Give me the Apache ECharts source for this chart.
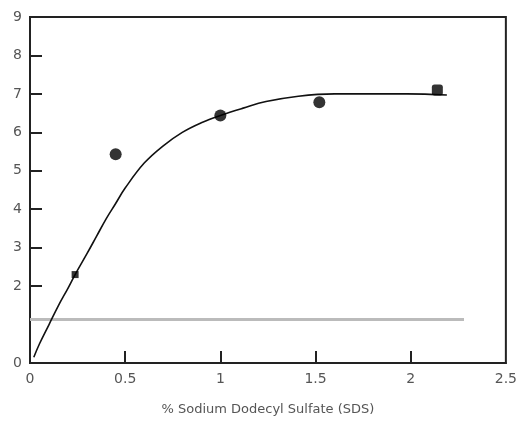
<!DOCTYPE html>
<html><head><meta charset="utf-8">
<script src="https://cdn.jsdelivr.net/npm/echarts@6/dist/echarts.min.js"></script>
<style>html,body{margin:0;padding:0;background:#fff}#c{width:520px;height:421px}</style>
</head><body><div id="c"></div>
<script>
// measured points
var pointX = [0.45, 1.0, 1.52];
var pointY = [5.43, 6.44, 6.78];
var smallPointX = [0.237];
var smallPointY = [2.3];
var squareX = [2.14];
var squareY = [7.1];
// fitted curve
var curveX = [0.02, 0.05, 0.1, 0.15, 0.2, 0.237, 0.3, 0.35, 0.4, 0.45, 0.5, 0.6, 0.7, 0.8, 0.9, 1.0, 1.12, 1.24, 1.41, 1.6, 1.8, 1.98, 2.19];
var curveY = [0.15, 0.5, 1.0, 1.5, 1.95, 2.3, 2.85, 3.3, 3.75, 4.15, 4.55, 5.2, 5.65, 6.0, 6.25, 6.44, 6.63, 6.8, 6.94, 7.0, 7.0, 7.0, 6.97];
// gray reference line
var refX = [0, 2.28];
var refY = [1.13, 1.13];
var xTicks = [0, 0.5, 1, 1.5, 2, 2.5];
var xTickMarks = [0.5, 1, 1.5, 2];
var yTicks = [0, 2, 3, 4, 5, 6, 7, 8, 9];
var yTickMarks = [2, 3, 4, 5, 6, 7, 8];
var xName = '% Sodium Dodecyl Sulfate (SDS)';

function zip(a, b) { return a.map(function (v, i) { return [v, b[i]]; }); }
var chart = echarts.init(document.getElementById('c'));
var font = 'DejaVu Sans';
chart.setOption({
  animation: false,
  grid: { left: 30, right: 7, top: 17, bottom: 57, show: true, borderColor: '#222', borderWidth: 2 },
  xAxis: {
    type: 'value', min: 0, max: 2.5, interval: 0.5,
    name: xName, nameLocation: 'middle', nameGap: 40,
    nameTextStyle: { fontFamily: font, fontSize: 13, color: '#555' },
    axisLine: { show: true, lineStyle: { color: '#222', width: 2 } },
    axisTick: { show: true, inside: true, length: 12, customValues: xTickMarks, lineStyle: { color: '#222', width: 2 } },
    axisLabel: { fontFamily: font, fontSize: 14, color: '#555', margin: 9, customValues: xTicks },
    splitLine: { show: false }
  },
  yAxis: {
    type: 'value', min: 0, max: 9, interval: 1,
    axisLine: { show: true, lineStyle: { color: '#222', width: 2 } },
    axisTick: { show: true, inside: true, length: 12, customValues: yTickMarks, lineStyle: { color: '#222', width: 2 } },
    axisLabel: { fontFamily: font, fontSize: 14, color: '#555', margin: 8, customValues: yTicks },
    splitLine: { show: false }
  },
  series: [
    { type: 'line', data: zip(refX, refY), symbol: 'none', lineStyle: { color: '#bbb', width: 3 }, z: 1 },
    { type: 'line', data: zip(curveX, curveY), smooth: 0.4, symbol: 'none', lineStyle: { color: '#111', width: 1.6 }, z: 2 },
    { type: 'scatter', data: zip(pointX, pointY), symbol: 'circle', symbolSize: 12, itemStyle: { color: '#000' }, z: 3 },
    { type: 'scatter', data: zip(smallPointX, smallPointY), symbol: 'rect', symbolSize: 7, itemStyle: { color: '#000' }, z: 3 },
    { type: 'scatter', data: zip(squareX, squareY), symbol: 'roundRect', symbolSize: 11, itemStyle: { color: '#000' }, z: 3 }
  ]
});
</script></body></html>
